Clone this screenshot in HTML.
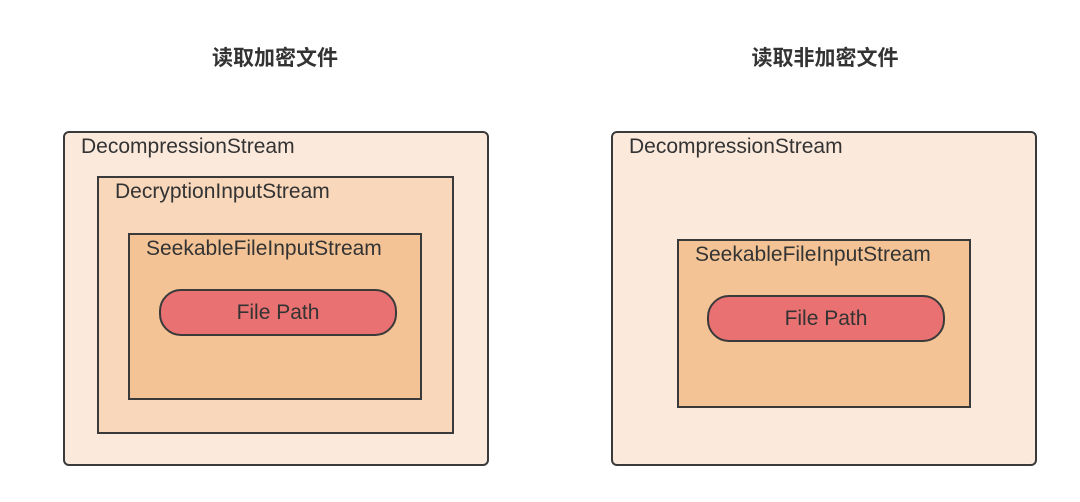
<!DOCTYPE html>
<html><head><style>
body{margin:0;width:1080px;height:502px;background:#fff;position:relative;font-family:"Liberation Sans","Noto Sans CJK SC",sans-serif;overflow:hidden}
.t{position:absolute;top:42px;font-size:21px;font-weight:bold;color:#333;width:300px;text-align:center}
.b{position:absolute;border:2px solid #3a3a3a;box-sizing:border-box;color:#333;font-size:21px}
.b span{position:absolute;left:16px;top:2px;white-space:nowrap}
.o{background:#fbe9dc;border-radius:6px}
.m{background:#f8d7bb}
.i{background:#f3c396}
.p{background:#e97171;border-radius:22px;display:flex;align-items:center;justify-content:center}
</style></head><body>
<div class="t" style="left:125px">读取加密文件</div>
<div class="t" style="left:675px">读取非加密文件</div>
<div class="b o" style="left:63px;top:131px;width:426px;height:335px"><span>DecompressionStream</span></div>
<div class="b m" style="left:97px;top:176px;width:357px;height:258px"><span>DecryptionInputStream</span></div>
<div class="b i" style="left:128px;top:233px;width:294px;height:167px"><span>SeekableFileInputStream</span></div>
<div class="b p" style="left:159px;top:289px;width:238px;height:47px">File Path</div>
<div class="b o" style="left:611px;top:131px;width:426px;height:335px"><span>DecompressionStream</span></div>
<div class="b i" style="left:677px;top:239px;width:294px;height:169px"><span>SeekableFileInputStream</span></div>
<div class="b p" style="left:707px;top:295px;width:238px;height:47px">File Path</div>
</body></html>
